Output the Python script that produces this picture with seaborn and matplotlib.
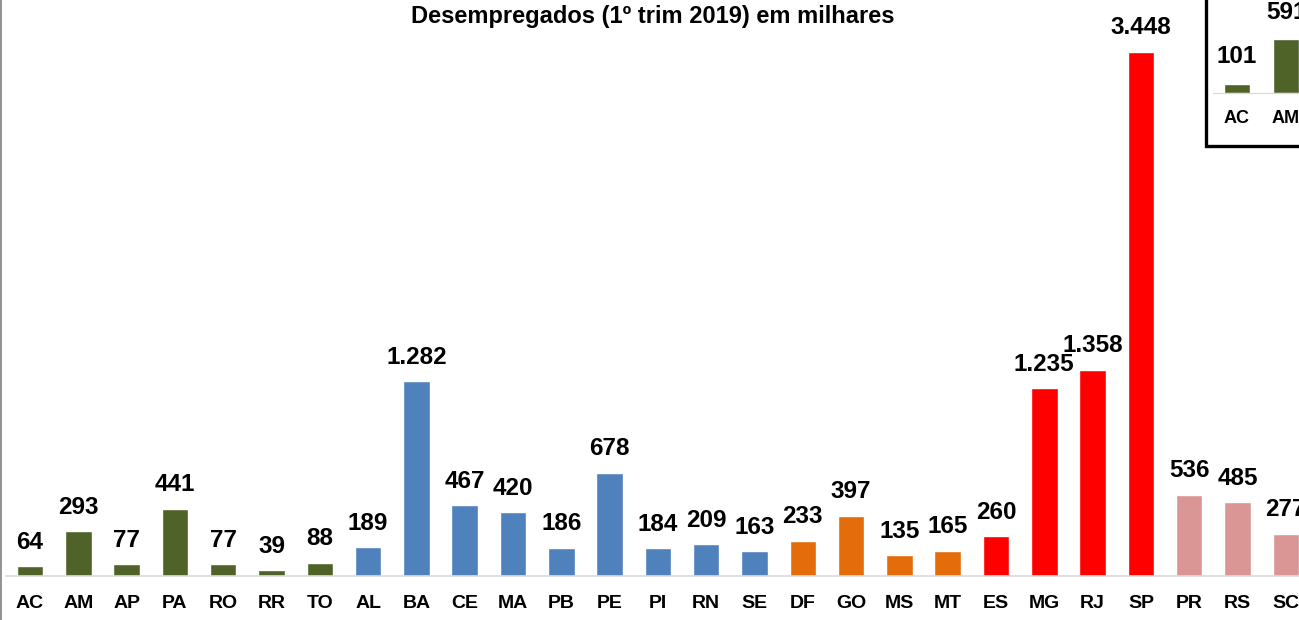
import pandas as pd
import matplotlib.pyplot as plt
import seaborn as sns
from matplotlib.patches import Rectangle
from matplotlib.lines import Line2D

# Desempregados por UF, 1o trimestre 2019 (milhares)
states = ['AC', 'AM', 'AP', 'PA', 'RO', 'RR', 'TO',
          'AL', 'BA', 'CE', 'MA', 'PB', 'PE', 'PI', 'RN', 'SE',
          'DF', 'GO', 'MS', 'MT',
          'ES', 'MG', 'RJ', 'SP',
          'PR', 'RS', 'SC']
values = [64, 293, 77, 441, 77, 39, 88,
          189, 1282, 467, 420, 186, 678, 184, 209, 163,
          233, 397, 135, 165,
          260, 1235, 1358, 3448,
          536, 485, 277]
regions = ['N'] * 7 + ['NE'] * 9 + ['CO'] * 4 + ['SE'] * 4 + ['S'] * 3
palette = {'N': '#4F6228', 'NE': '#4F81BD', 'CO': '#E46C0A',
           'SE': '#FF0000', 'S': '#D99694'}

# inset (cut off at the right edge in the original)
inset_states = ['AC', 'AM']
inset_values = [101, 591]

df = pd.DataFrame({'UF': states, 'Valor': values, 'Regiao': regions})
df_in = pd.DataFrame({'UF': inset_states, 'Valor': inset_values})

sns.set_style('white')
plt.rcParams['font.family'] = ['Liberation Sans', 'DejaVu Sans']
plt.rcParams['text.color'] = 'black'
plt.rcParams['xtick.color'] = 'black'

W, H = 1299, 620
fig = plt.figure(figsize=(W / 100, H / 100), dpi=100)

def fx(px):
    return px / W

def fy(py):
    return 1 - py / H

# main chart
step = 48.3
left = 30 - 0.5 * step
ax = fig.add_axes([fx(left), fy(576), fx(27 * step), 576 / H])
sns.barplot(data=df, x='UF', y='Valor', hue='Regiao', palette=palette,
            dodge=False, width=0.55, legend=False, ax=ax, saturation=1)
ax.set_xlim(-0.5, 26.5)
ax.set_ylim(0, 3448 * 576 / 524)
for i, v in enumerate(values):
    txt = f'{v:,}'.replace(',', '.')
    ax.annotate(txt, (i, v), xytext=(0, 9), textcoords='offset points',
                ha='center', va='bottom', fontsize=17.5, fontweight='bold')
ax.set_xlabel('')
ax.set_ylabel('')
ax.set_yticks([])
ax.tick_params(axis='x', length=0, pad=14, labelsize=14, labelcolor='black')
for lbl in ax.get_xticklabels():
    lbl.set_fontweight('bold')
for s in ['top', 'right', 'left']:
    ax.spines[s].set_visible(False)
ax.spines['bottom'].set_color('#D9D9D9')
ax.spines['bottom'].set_linewidth(1.2)
ax.patch.set_alpha(0)

fig.text(fx(653), fy(17), 'Desempregados (1º trim 2019) em milhares',
         ha='center', va='center', fontsize=17, fontweight='bold')

# left border of chart area
fig.add_artist(Line2D([fx(0.8), fx(0.8)], [0, 1], color='#7F7F7F', lw=1.2))

# inset box
fig.add_artist(Rectangle((fx(1206), fy(146)), fx(200), 0.5,
                         facecolor='white', edgecolor='black', lw=2.4, zorder=5))
axi = fig.add_axes([fx(1237 - 24.5), fy(93), fx(2 * 49), 93 / H], zorder=6)
sns.barplot(data=df_in, x='UF', y='Valor', color='#4F6228', width=0.55,
            ax=axi, saturation=1)
axi.set_xlim(-0.5, 1.5)
axi.set_ylim(0, 591 * 93 / 54)
for i, v in enumerate(inset_values):
    axi.annotate(str(v), (i, v), xytext=(0, 11), textcoords='offset points',
                 ha='center', va='bottom', fontsize=17.5, fontweight='bold')
axi.set_xlabel('')
axi.set_ylabel('')
axi.set_yticks([])
axi.tick_params(axis='x', length=0, pad=12, labelsize=13, labelcolor='black')
for lbl in axi.get_xticklabels():
    lbl.set_fontweight('bold')
for s in ['top', 'right', 'left']:
    axi.spines[s].set_visible(False)
axi.spines['bottom'].set_color('#D9D9D9')
axi.patch.set_alpha(0)

fig.savefig('out.png', dpi=100)
